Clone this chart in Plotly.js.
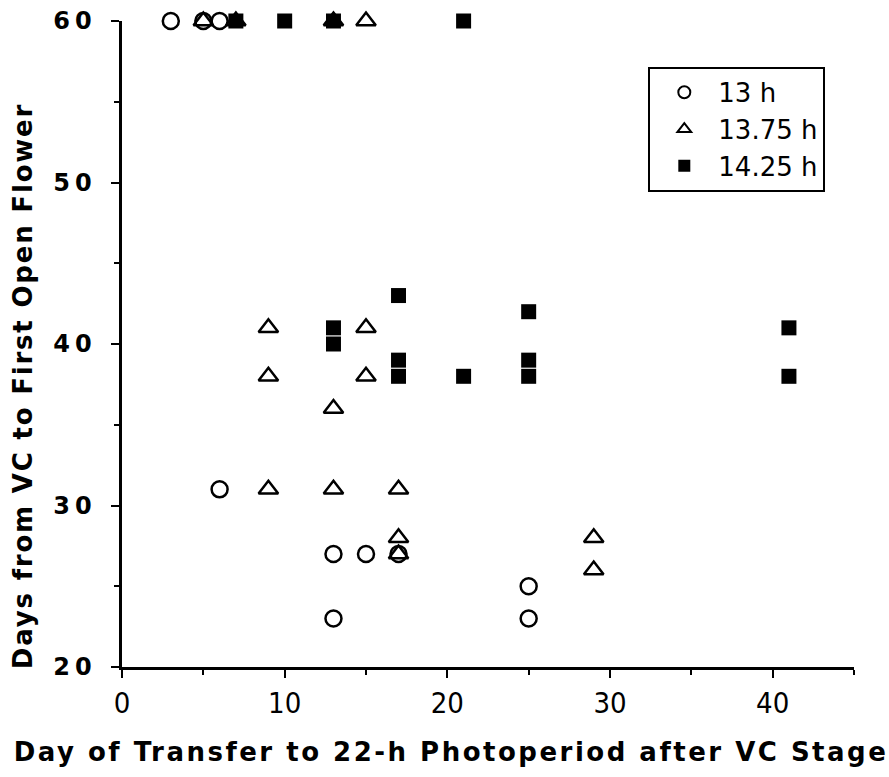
<!DOCTYPE html>
<html>
<head>
<meta charset="utf-8">
<script src="https://cdn.plot.ly/plotly-3.0.1.min.js"></script>
<style>
html,body{margin:0;padding:0;background:#fff;}
#chart{width:889px;height:777px;}
#chart text.xtitle{letter-spacing:2.5px; translate:-37px -3px;}
#chart text.ytitle{letter-spacing:1.8px; translate:-6px 42px;}
#chart .ytick text{letter-spacing:5px;}
</style>
</head>
<body>
<div id="chart"></div>
<script>
// Series names
const seriesNames = ["13 h", "13.75 h", "14.25 h"];

// 13 h (open circles)
const x13 = [3, 5, 6, 6, 13, 15, 17, 13, 25, 25];
const y13 = [60, 60, 60, 31, 27, 27, 27, 23, 25, 23];

// 13.75 h (open triangles)
const x1375 = [5, 7, 13, 15, 9, 9, 15, 15, 13, 9, 13, 17, 17, 17, 29, 29];
const y1375 = [60, 60, 60, 60, 41, 38, 41, 38, 36, 31, 31, 31, 28, 27, 28, 26];

// 14.25 h (filled squares)
const x1425 = [7, 10, 13, 21, 13, 13, 17, 17, 17, 21, 25, 25, 25, 41, 41];
const y1425 = [60, 60, 60, 60, 41, 40, 43, 39, 38, 38, 42, 39, 38, 41, 38];

// Axis ticks
const xTicks = [0, 10, 20, 30, 40];
const yTicks = [20, 30, 40, 50, 60];

const traces = [
  {x: x13, y: y13, name: seriesNames[0], type: "scatter", mode: "markers", cliponaxis: false,
   marker: {symbol: "circle-open", size: 16, color: "#000", line: {width: 2.5, color: "#000"}}},
  {x: x1375, y: y1375, name: seriesNames[1], type: "scatter", mode: "markers", cliponaxis: false,
   marker: {symbol: "triangle-up-open", size: 17, color: "#000", line: {width: 2.5, color: "#000"}}},
  {x: x1425, y: y1425, name: seriesNames[2], type: "scatter", mode: "markers", cliponaxis: false,
   marker: {symbol: "square", size: 15, color: "#000", line: {width: 0}}}
];

const layout = {
  width: 889, height: 777,
  margin: {l: 121.5, r: 35.4, t: 21, b: 110},
  paper_bgcolor: "#fff", plot_bgcolor: "#fff",
  showlegend: true,
  legend: {
    x: 0.719, y: 0.929, xanchor: "left", yanchor: "top",
    bordercolor: "#000", borderwidth: 2, bgcolor: "#fff",
    font: {family: "DejaVu Sans, sans-serif", size: 26, color: "#000"},
    itemsizing: "constant", itemwidth: 58
  },
  xaxis: {
    range: [0, 45], tickvals: xTicks, ticktext: xTicks.map(String),
    showline: true, linecolor: "#000", linewidth: 3, mirror: false,
    ticks: "outside", ticklen: 8, tickwidth: 2, tickcolor: "#000",
    minor: {dtick: 5, tick0: 0, ticks: "outside", ticklen: 5, tickwidth: 2, tickcolor: "#000", showgrid: false},
    showgrid: false, zeroline: false,
    tickfont: {family: "Liberation Sans Narrow, DejaVu Sans Condensed, sans-serif", size: 29, color: "#000"},
    title: {text: "Day of Transfer to 22-h Photoperiod after VC Stage", standoff: 28,
            font: {family: "DejaVu Sans, sans-serif", size: 26, color: "#000", weight: "bold"}}
  },
  yaxis: {
    range: [20, 60], tickvals: yTicks, ticktext: yTicks.map(String),
    showline: true, linecolor: "#000", linewidth: 3.5,
    ticks: "outside", ticklen: 8, tickwidth: 2, tickcolor: "#000",
    ticklabelstandoff: 9,
    minor: {dtick: 5, tick0: 0, ticks: "outside", ticklen: 5, tickwidth: 2, tickcolor: "#000", showgrid: false},
    showgrid: false, zeroline: false,
    tickfont: {family: "DejaVu Sans, sans-serif", size: 24, color: "#000", weight: "bold"},
    title: {text: "Days from VC to First Open Flower", standoff: 18,
            font: {family: "DejaVu Sans, sans-serif", size: 26, color: "#000", weight: "bold"}}
  }
};

Plotly.newPlot("chart", traces, layout, {displayModeBar: false, staticPlot: true});
</script>
</body>
</html>
